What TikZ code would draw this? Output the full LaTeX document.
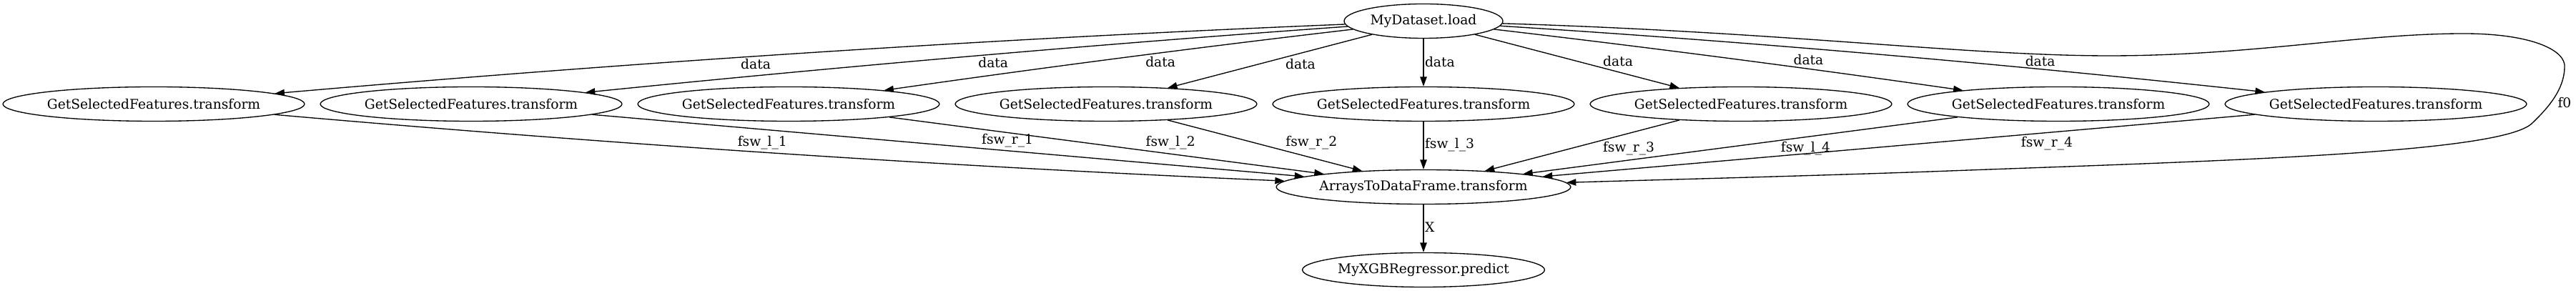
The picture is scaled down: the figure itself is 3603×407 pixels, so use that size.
\documentclass[tikz,border=0pt]{standalone}
\usepackage{fontspec}
\setmainfont{DejaVu Serif}
\usetikzlibrary{arrows.meta, positioning, shapes.geometric}
\begin{document}
\begin{tikzpicture}[x=0.375pt, y=0.375pt, node distance=43.5pt,
    every node/.style={font=\fontsize{7}{8.5}\selectfont},
    stage/.style={ellipse, draw, line width=0.5pt, inner sep=0pt, minimum height=18pt, minimum width=157pt},
    feed/.style={-{Triangle[length=5pt, width=3.5pt]}, line width=0.5pt},
    lbl/.style={inner sep=0.5pt}]
    \useasboundingbox (0,0) rectangle (3603,-407);

    % Nodes
    \node (gsfA) [stage] at (215,-145.5) {GetSelectedFeatures.transform};
    \node (gsfB) [stage, right of=gsfA, xshift=123pt] {GetSelectedFeatures.transform};
    \node (gsfC) [stage, right of=gsfB, xshift=123pt] {GetSelectedFeatures.transform};
    \node (gsfD) [stage, right of=gsfC, xshift=123pt] {GetSelectedFeatures.transform};
    \node (gsfE) [stage, right of=gsfD, xshift=123pt] {GetSelectedFeatures.transform};
    \node (gsfF) [stage, right of=gsfE, xshift=123pt] {GetSelectedFeatures.transform};
    \node (gsfG) [stage, right of=gsfF, xshift=123pt] {GetSelectedFeatures.transform};
    \node (gsfH) [stage, right of=gsfG, xshift=123pt] {GetSelectedFeatures.transform};
    \node (load) [stage, minimum width=83.25pt, above of=gsfE] {MyDataset.load};
    \node (atdf) [stage, minimum width=0pt, below of=gsfE] {ArraysToDataFrame.transform};
    \node (mxgb) [stage, minimum width=0pt, below of=atdf] {MyXGBRegressor.predict};

    % Arrows
    \draw[feed] (load) .. controls (1389,-54.1) and (893,-86.5) .. node[lbl, pos=.57, anchor=north west] {data} (gsfA);
    \draw[feed] (load) .. controls (1534,-62) and (1180,-92.9) .. node[lbl, pos=.49, anchor=north west] {data} (gsfB);
    \draw[feed] (load) .. controls (1678,-66) and (1459,-94.5) .. node[lbl, pos=.45, anchor=north west] {data} (gsfC);
    \draw[feed] (load) -- node[lbl, pos=.43, anchor=north west] {data} (gsfD);
    \draw[feed] (load) -- node[lbl, pos=.49, anchor=west] {data} (gsfE);
    \draw[feed] (load) -- node[lbl, pos=.62, anchor=south west] {data} (gsfF);
    \draw[feed] (load) .. controls (2304,-66) and (2523,-94.5) .. node[lbl, pos=.64, anchor=south west] {data} (gsfG);
    \draw[feed] (load) .. controls (2448,-58.4) and (2802,-89.3) .. node[lbl, pos=.69, anchor=south west] {data} (gsfH);

    \draw[feed] (gsfA) .. controls (868,-202.7) and (1340,-233.5) .. node[lbl, pos=.45, anchor=south west] {fsw\_l\_1} (atdf);
    \draw[feed] (gsfB) -- node[lbl, pos=.545, anchor=south west] {fsw\_r\_1} (atdf);
    \draw[feed] (gsfC) -- node[lbl, pos=.587, anchor=south west] {fsw\_l\_2} (atdf);
    \draw[feed] (gsfD) -- node[lbl, pos=.6, anchor=south west] {fsw\_r\_2} (atdf);
    \draw[feed] (gsfE) -- node[lbl, pos=.48, anchor=west] {fsw\_l\_3} (atdf);
    \draw[feed] (gsfF) -- node[lbl, pos=.4, anchor=north west] {fsw\_r\_3} (atdf);
    \draw[feed] (gsfG) -- node[lbl, pos=.41, anchor=north west] {fsw\_l\_4} (atdf);
    \draw[feed] (gsfH) -- node[lbl, pos=.33, anchor=north west] {fsw\_r\_4} (atdf);

    \draw[feed] (load) .. controls (2500,-45) and (2750,-78) .. (2950,-78)
        .. controls (3150,-78) and (3300,-47) .. (3446,-47)
        .. controls (3540,-47) and (3590,-70) .. (3587,-95)
        .. controls (3586,-125) and (3565,-150) .. (3542,-172) node[lbl, pos=.6, anchor=west, xshift=3pt] {f0}
        .. controls (3500,-215) and (3100,-225) .. (2700,-240)
        .. controls (2500,-247) and (2300,-252) .. (atdf);

    \draw[feed] (atdf) -- node[lbl, pos=.47, anchor=west] {X} (mxgb);
\end{tikzpicture}
\end{document}
